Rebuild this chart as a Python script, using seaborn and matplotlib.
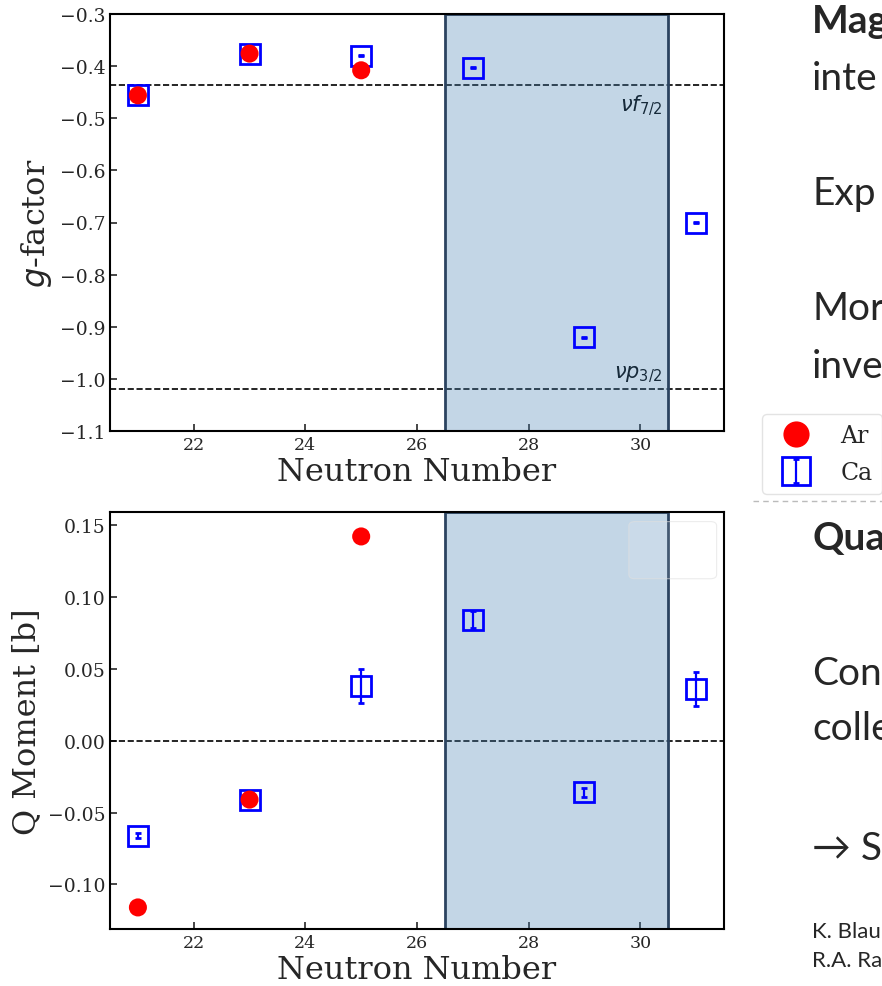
import matplotlib
matplotlib.use("Agg")
import matplotlib.pyplot as plt
from matplotlib.lines import Line2D
from matplotlib.patches import FancyBboxPatch
import seaborn as sns

# neutron numbers of the measured isotopes
ar_n = [21, 23, 25]
ca_n = [21, 23, 25, 27, 29, 31]

# g-factors
ar_g = [-0.456, -0.376, -0.408]
ca_g = [-0.456, -0.376, -0.380, -0.403, -0.920, -0.700]
ca_g_err = [0.001, 0.001, 0.001, 0.001, 0.001, 0.001]

# quadrupole moments [b]
ar_q = [-0.116, -0.041, 0.142]
ca_q = [-0.066, -0.041, 0.038, 0.084, -0.036, 0.036]
ca_q_err = [0.002, 0.001, 0.012, 0.006, 0.003, 0.012]

# effective single-particle g-factors
schmidt_g = [-0.437, -1.020]
schmidt_labels = [r"$\nu f_{7/2}$", r"$\nu p_{3/2}$"]

# f7/2 shell region
shade = (26.5, 30.5)

# slide text next to the plots (cut at the right edge)
slide_lines = [("Mag", 33, "bold", 28), ("inte", 90, "normal", 28),
               ("Exp", 205, "normal", 28), ("Mor", 320, "normal", 28),
               ("inve", 378, "normal", 28), ("Qua", 550, "bold", 28),
               ("Con", 685, "normal", 28), ("colle", 740, "normal", 28),
               ("\u2192 S", 860, "normal", 28), ("K. Blau", 938, "normal", 16),
               ("R.A. Ra", 967, "normal", 16)]

sns.set_style("ticks")
plt.rcParams["font.family"] = "serif"
plt.rcParams["font.serif"] = ["DejaVu Serif"]
plt.rcParams["mathtext.fontset"] = "dejavusans"

W, H = 882, 987
fig = plt.figure(figsize=(W / 100, H / 100), dpi=100)
ax1 = fig.add_axes([110 / W, 1 - 432 / H, 614 / W, 417 / H])
ax2 = fig.add_axes([110 / W, 1 - 930 / H, 614 / W, 417 / H])

blue = "#0000ff"
red = "#ff0000"


def draw(ax, ar_y, ca_y, ca_err):
    ax.axvspan(*shade, facecolor=(0.275, 0.51, 0.706, 0.32),
               edgecolor="#2b4360", lw=2, zorder=2)
    ca = ax.errorbar(ca_n, ca_y, yerr=ca_err, fmt="s", ms=14, mfc="none",
                     mec=blue, mew=2, ecolor=blue, elinewidth=1.6,
                     capsize=2.5, capthick=1.6, zorder=4)
    sns.scatterplot(x=ar_n, y=ar_y, ax=ax, color=red, s=13 ** 2,
                    edgecolor="none", zorder=5, legend=False)
    ax.set_xlim(20.5, 31.5)
    ax.set_xticks([22, 24, 26, 28, 30])
    ax.tick_params(direction="in", length=5, width=1.2, top=False, right=False)
    ax.tick_params(axis="y", labelsize=13.5)
    ax.tick_params(axis="x", labelsize=12.5)
    for s in ax.spines.values():
        s.set_linewidth(1.5)
        s.set_color("black")
    ax.set_xlabel("Neutron Number", fontsize=23, labelpad=2)
    return ca


ca_handle = draw(ax1, ar_g, ca_g, ca_g_err)
for yv in schmidt_g:
    ax1.axhline(yv, color="black", ls="--", lw=1.2, zorder=1)
ax1.text(30.4, schmidt_g[0] - 0.015, schmidt_labels[0], ha="right", va="top",
         fontsize=15, color="black", zorder=1)
ax1.text(30.4, schmidt_g[1] + 0.01, schmidt_labels[1], ha="right", va="bottom",
         fontsize=15, color="black", zorder=1)
ax1.set_ylim(-1.1, -0.3)
ax1.set_yticks([-0.3, -0.4, -0.5, -0.6, -0.7, -0.8, -0.9, -1.0, -1.1])
ax1.set_ylabel("$g$-factor", fontsize=23)

draw(ax2, ar_q, ca_q, ca_q_err)
ax2.axhline(0, color="black", ls="--", lw=1.2, zorder=1)
ax2.set_ylim(-0.131, 0.159)
ax2.set_yticks([-0.10, -0.05, 0.0, 0.05, 0.10, 0.15])
ax2.set_ylabel("Q Moment [b]", fontsize=23)
ax2.add_patch(FancyBboxPatch((0.845, 0.84), 0.143, 0.137,
                             boxstyle="round,pad=0,rounding_size=0.01",
                             transform=ax2.transAxes, facecolor=(1, 1, 1, 0.12),
                             edgecolor=(0.88, 0.88, 0.88, 0.6), lw=0.8, zorder=3))

ar_handle = Line2D([], [], ls="none", marker="o", ms=13, color=red, mec="none")
fig.legend(handles=[ar_handle, ca_handle], labels=["Ar", "Ca"],
           loc="upper left", bbox_to_anchor=(762 / W, 1 - 415 / H),
           fontsize=17, frameon=True, fancybox=True, edgecolor="#dddddd",
           borderaxespad=0, borderpad=0.42, labelspacing=0.6,
           markerscale=1.45, handletextpad=0.9)

fig.add_artist(Line2D([753 / W, 1], [1 - 502 / H, 1 - 502 / H],
                      transform=fig.transFigure, color="#bbbbbb",
                      ls=(0, (4, 3)), lw=1))

for txt, base, weight, size in slide_lines:
    fig.text(812 / W, 1 - base / H, txt, fontsize=size, fontweight=weight,
             family=["Lato", "DejaVu Sans"], va="baseline", ha="left")

fig.savefig("out.png", dpi=100)
